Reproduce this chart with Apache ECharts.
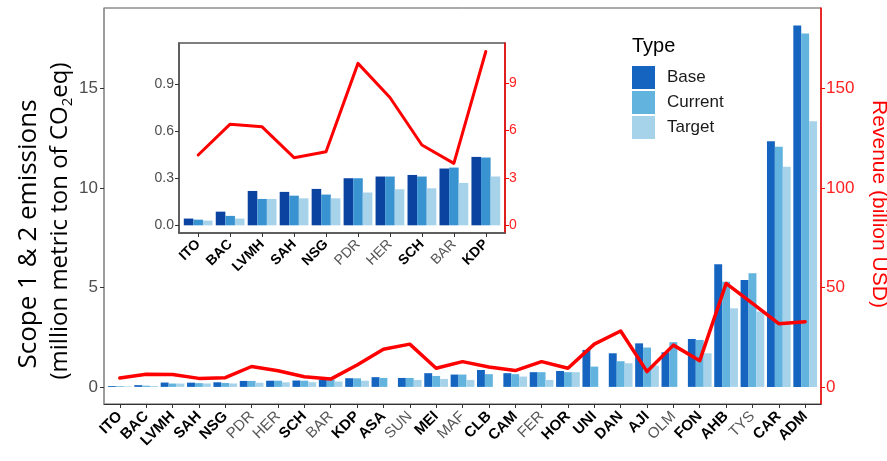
<!DOCTYPE html>
<html>
<head>
<meta charset="utf-8">
<script src="https://cdn.jsdelivr.net/npm/echarts@6/dist/echarts.min.js"></script>
<style>
html,body{margin:0;padding:0;background:#fff;}
#chart{width:887px;height:461px;}
</style>
</head>
<body>
<div id="chart"></div>
<script>
// ---------- data ----------
const categories = ['ITO','BAC','LVMH','SAH','NSG','PDR','HER','SCH','BAR','KDP','ASA','SUN','MEI','MAF','CLB','CAM','FER','HOR','UNI','DAN','AJI','OLM','FON','AHB','TYS','CAR','ADM'];
const base    = [0.043,0.087,0.219,0.213,0.232,0.300,0.311,0.321,0.362,0.436,0.49,0.45,0.69,0.62,0.85,0.69,0.74,0.80,1.86,1.69,2.19,1.74,2.41,6.17,5.38,12.35,18.17];
const current = [0.036,0.060,0.168,0.189,0.196,0.300,0.311,0.311,0.368,0.432,0.45,0.45,0.55,0.62,0.64,0.64,0.74,0.74,1.02,1.29,1.98,2.25,2.36,5.29,5.71,12.08,17.77];
const target  = [0.030,0.043,0.168,0.172,0.172,0.209,0.230,0.236,0.270,0.311,null,0.35,0.40,0.35,null,0.52,0.35,0.74,null,1.19,1.07,null,1.69,3.95,3.79,11.07,13.35];
const revenue = [4.45,6.40,6.23,4.28,4.66,10.25,8.09,5.08,3.92,11.0,18.9,21.5,9.4,12.7,10.0,8.2,12.7,9.4,21.5,28.1,7.7,21.0,13.2,52.0,42.0,31.8,32.8];
const grayLabels = ['PDR','HER','BAR','SUN','MAF','FER','OLM','TYS'];
const insetCount = 10;
const leftTicks = [0,5,10,15];
const rightTicks = [0,50,100,150];
const insetLeftTicks = [0,0.3,0.6,0.9];
const insetRightTicks = [0,3,6,9];

// ---------- helpers ----------
const FONT = '"Liberation Sans", Arial, sans-serif';
const TFONT = '"Open Sans", sans-serif';
const pairs = (arr, n) => arr.slice(0, n).map((v, i) => [i, v]);
const idx = n => Array.from({length: n}, (_, i) => i);
const catLabel = v => {
  const name = categories[Math.round(v)];
  if (name === undefined) return '';
  return grayLabels.includes(name) ? '{n|' + name + '}' : '{b|' + name + '}';
};
const mainCols = ['#1565C0', '#62B3DE', '#A7D3EA'];
const insetCols = ['#0B44A0', '#3A93D1', '#A6D2EA'];

const chart = echarts.init(document.getElementById('chart'), null, {renderer: 'canvas'});
const N = categories.length;

const option = {
  animation: false,
  backgroundColor: '#fff',
  grid: [
    {left: 104, top: 8, width: 717, height: 396, show: true, borderColor: '#555', borderWidth: 1, backgroundColor: 'transparent'},
    {left: 179, top: 43, width: 326, height: 190, show: true, borderColor: '#555', borderWidth: 1.5, backgroundColor: '#fff', z: 10}
  ],
  xAxis: [
    {
      type: 'value', gridIndex: 0, min: -0.6, max: N - 1 + 0.6,
      splitLine: {show: false},
      axisLine: {onZero: false, lineStyle: {color: '#333', width: 1}},
      axisTick: {customValues: idx(N), length: 4, lineStyle: {color: '#333'}},
      axisLabel: {
        customValues: idx(N), rotate: 45, margin: 10, formatter: catLabel,
        rich: {
          b: {fontFamily: FONT, fontSize: 15, fontWeight: 'bold', color: '#000'},
          n: {fontFamily: FONT, fontSize: 15, color: '#555'}
        }
      }
    },
    {
      type: 'value', gridIndex: 1, min: -0.6, max: insetCount - 1 + 0.6, z: 11,
      splitLine: {show: false},
      axisLine: {onZero: false, lineStyle: {color: '#555', width: 1.5}},
      axisTick: {customValues: idx(insetCount), length: 4, lineStyle: {color: '#333'}},
      axisLabel: {
        customValues: idx(insetCount), rotate: 45, margin: 9, formatter: catLabel,
        rich: {
          b: {fontFamily: FONT, fontSize: 14, fontWeight: 'bold', color: '#000'},
          n: {fontFamily: FONT, fontSize: 14, color: '#555'}
        }
      }
    }
  ],
  yAxis: [
    {
      type: 'value', gridIndex: 0, min: -0.86, max: 19.05, position: 'left',
      splitLine: {show: false},
      axisLine: {show: true, onZero: false, lineStyle: {color: '#999', width: 1.5}},
      axisTick: {show: true, customValues: leftTicks, length: 4, lineStyle: {color: '#333'}},
      axisLabel: {customValues: leftTicks, margin: 6, fontFamily: FONT, fontSize: 17, color: '#4D4D4D'}
    },
    {
      type: 'value', gridIndex: 0, min: -8.6, max: 190.5, position: 'right',
      splitLine: {show: false},
      axisLine: {show: true, onZero: false, lineStyle: {color: '#FF0000', width: 1.5}},
      axisTick: {show: true, customValues: rightTicks, length: 4, lineStyle: {color: '#FF0000'}},
      axisLabel: {customValues: rightTicks, margin: 5, fontFamily: FONT, fontSize: 17, color: '#FF2020'}
    },
    {
      type: 'value', gridIndex: 1, min: -0.049, max: 1.162, position: 'left', z: 11,
      splitLine: {show: false},
      axisLine: {show: true, onZero: false, lineStyle: {color: '#555', width: 1.5}},
      axisTick: {show: true, customValues: insetLeftTicks, length: 4, lineStyle: {color: '#333'}},
      axisLabel: {customValues: insetLeftTicks, margin: 5, fontFamily: FONT, fontSize: 14, color: '#4D4D4D',
                  formatter: v => v.toFixed(1)}
    },
    {
      type: 'value', gridIndex: 1, min: -0.49, max: 11.54, position: 'right', z: 11,
      splitLine: {show: false},
      axisLine: {show: true, onZero: false, lineStyle: {color: '#FF0000', width: 1.5}},
      axisTick: {show: true, customValues: insetRightTicks, length: 4, lineStyle: {color: '#FF0000'}},
      axisLabel: {customValues: insetRightTicks, margin: 4, fontFamily: FONT, fontSize: 14, color: '#FF2020'}
    }
  ],
  legend: {
    data: ['Base', 'Current', 'Target'],
    orient: 'vertical', left: 632, top: 66, padding: 0,
    itemWidth: 23, itemHeight: 23, itemGap: 2, icon: 'rect',
    textStyle: {fontFamily: FONT, fontSize: 17, color: '#1a1a1a', padding: [0, 0, 0, 7]}
  },
  graphic: [
    {type: 'text', left: 632, top: 36, style: {text: 'Type', fontFamily: FONT, fontSize: 20, fill: '#000'}},
    {type: 'text', x: 29, y: 234, rotation: Math.PI / 2,
     style: {text: 'Scope 1 & 2 emissions', fontFamily: TFONT, fontSize: 26, fill: '#000', align: 'center', verticalAlign: 'middle'}},
    {type: 'text', x: 60, y: 221, rotation: Math.PI / 2,
     style: {text: '{a|(million metric ton of CO}{s|2}{a|eq)}', align: 'center', verticalAlign: 'middle',
       rich: {
         a: {fontFamily: TFONT, fontSize: 24, fill: '#000', color: '#000', lineHeight: 30},
         s: {fontFamily: TFONT, fontSize: 15, fill: '#000', color: '#000', lineHeight: 15, verticalAlign: 'bottom'}
       }}},
    {type: 'text', x: 879, y: 204, rotation: -Math.PI / 2,
     style: {text: 'Revenue (billion USD)', fontFamily: FONT, fontSize: 21, fill: '#FF0000', align: 'center', verticalAlign: 'middle'}}
  ],
  series: [
    {name: 'Base', type: 'bar', xAxisIndex: 0, yAxisIndex: 0, data: pairs(base, N), barWidth: '30%', barGap: '0%', itemStyle: {color: mainCols[0]}},
    {name: 'Current', type: 'bar', xAxisIndex: 0, yAxisIndex: 0, data: pairs(current, N), barWidth: '30%', barGap: '0%', itemStyle: {color: mainCols[1]}},
    {name: 'Target', type: 'bar', xAxisIndex: 0, yAxisIndex: 0, data: pairs(target, N), barWidth: '30%', barGap: '0%', itemStyle: {color: mainCols[2]}},
    {name: 'Revenue', type: 'line', xAxisIndex: 0, yAxisIndex: 1, data: pairs(revenue, N), symbol: 'none', z: 5,
     lineStyle: {color: '#FF0000', width: 3.5, join: 'round', cap: 'round'}},
    {name: 'Base', type: 'bar', xAxisIndex: 1, yAxisIndex: 2, data: pairs(base, insetCount), barWidth: '30%', barGap: '0%', z: 12, itemStyle: {color: insetCols[0]}},
    {name: 'Current', type: 'bar', xAxisIndex: 1, yAxisIndex: 2, data: pairs(current, insetCount), barWidth: '30%', barGap: '0%', z: 12, itemStyle: {color: insetCols[1]}},
    {name: 'Target', type: 'bar', xAxisIndex: 1, yAxisIndex: 2, data: pairs(target, insetCount), barWidth: '30%', barGap: '0%', z: 12, itemStyle: {color: insetCols[2]}},
    {name: 'Revenue inset', type: 'line', xAxisIndex: 1, yAxisIndex: 3, data: pairs(revenue, insetCount), symbol: 'none', z: 13,
     lineStyle: {color: '#FF0000', width: 3, join: 'round', cap: 'round'}}
  ]
};
chart.setOption(option);
</script>
</body>
</html>
